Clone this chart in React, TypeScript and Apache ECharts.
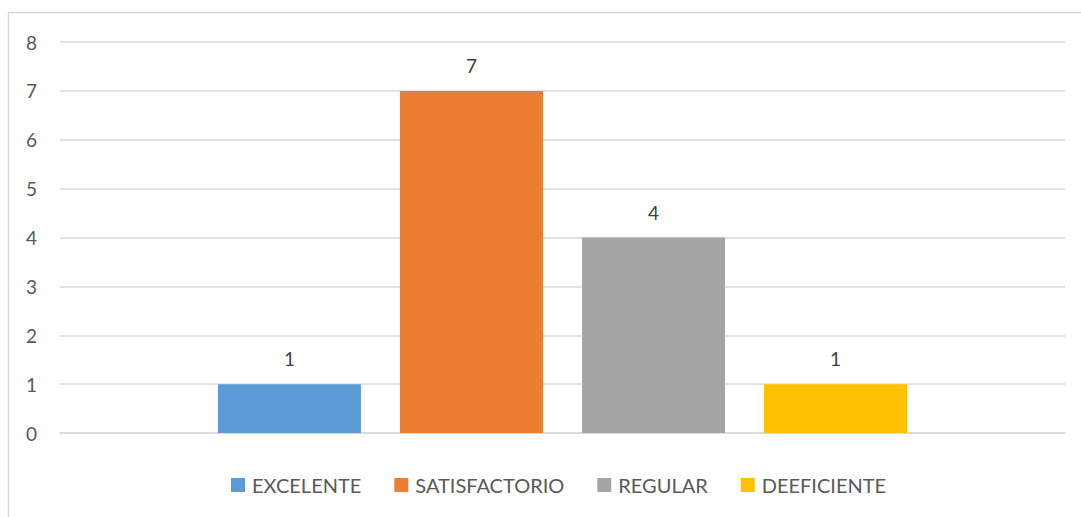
import React, { useEffect, useRef } from "react";
import * as echarts from "echarts";

const categories = [""];
const seriesNames = ["EXCELENTE", "SATISFACTORIO", "REGULAR", "DEEFICIENTE"];
const seriesValues = [1, 7, 4, 1];
const seriesColors = ["#5B9BD5", "#ED7D31", "#A5A5A5", "#FFC000"];
const yTicks = [0, 1, 2, 3, 4, 5, 6, 7, 8];

const FONT = "Lato, 'Noto Sans', sans-serif";

export default function App() {
  const ref = useRef<HTMLDivElement>(null);
  useEffect(() => {
    document.body.style.margin = "0";
    const chart = echarts.init(ref.current!, null, { renderer: "svg" });
    chart.setOption({
      animation: false,
      backgroundColor: "#ffffff",
      textStyle: { fontFamily: FONT },
      graphic: [
        {
          type: "rect",
          shape: { x: 8.5, y: 12.5, width: 1200, height: 700 },
          style: { fill: "none", stroke: "#d9d9d9", lineWidth: 1.5 },
          silent: true,
          z: -1,
        },
      ],
      grid: { left: 60, right: 16, top: 42, bottom: 84, containLabel: false },
      legend: {
        data: seriesNames,
        left: 231,
        top: 475,
        icon: "rect",
        itemWidth: 14,
        itemHeight: 14,
        itemGap: 33,
        padding: 0,
        textStyle: {
          fontFamily: FONT,
          fontSize: 20,
          color: "#595959",
          padding: [0, 0, 0, 2],
        },
      },
      xAxis: {
        type: "category",
        data: categories,
        axisLine: { show: true, lineStyle: { color: "#d9d9d9", width: 1.5 } },
        axisTick: { show: false },
        axisLabel: { show: false },
      },
      yAxis: {
        type: "value",
        min: yTicks[0],
        max: yTicks[yTicks.length - 1],
        interval: 1,
        axisLine: { show: false },
        axisTick: { show: false },
        splitLine: { lineStyle: { color: "#d9d9d9", width: 1.5 } },
        axisLabel: {
          fontFamily: FONT,
          fontSize: 19,
          color: "#595959",
          margin: 23,
        },
      },
      series: seriesNames.map((name, i) => ({
        name,
        type: "bar",
        data: [seriesValues[i]],
        barWidth: 143,
        barGap: "27.3%",
        itemStyle: { color: seriesColors[i] },
        label: {
          show: true,
          position: "top",
          distance: 16,
          fontFamily: FONT,
          fontSize: 19,
          color: "#404040",
        },
      })),
    });
    return () => chart.dispose();
  }, []);
  return (
    <div
      ref={ref}
      style={{ position: "fixed", left: 0, top: 0, width: 1081, height: 517 }}
    />
  );
}
